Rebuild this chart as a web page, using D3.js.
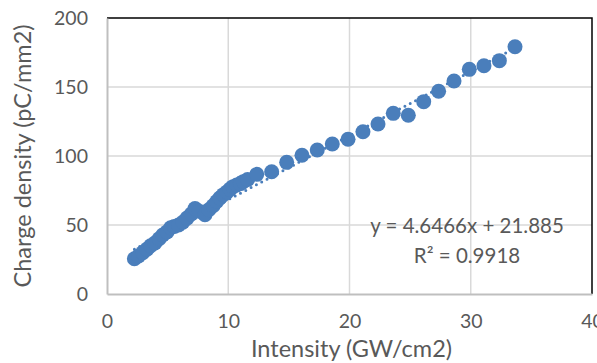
<!DOCTYPE html>
<html>
<head>
<meta charset="utf-8">
<script src="https://cdn.jsdelivr.net/npm/d3@7"></script>
<style>
  body { margin: 0; background: #fff; }
  text { font-family: Lato, "Open Sans", sans-serif; fill: #595959; }
</style>
</head>
<body>
<svg id="chart" width="597" height="363"></svg>
<script>
// values
const intensity = [2.26, 2.6, 2.95, 3.3, 3.6, 3.95, 4.3, 4.6, 4.95, 5.25, 5.55, 5.9, 6.25, 6.6, 6.95,
  7.26, 7.6, 8.08, 8.4, 8.75, 9.05, 9.3, 9.6, 9.9, 10.15, 10.4, 10.7, 11.0, 11.24, 11.6, 12.35,
  13.58, 14.82, 16.08, 17.34, 18.58, 19.88, 21.11, 22.35, 23.61, 24.85, 26.12, 27.35, 28.62,
  29.88, 31.09, 32.36, 33.65];
const charge = [25.5, 27.5, 30, 32.5, 35, 37, 40, 42.8, 45, 48, 49, 50, 52, 55, 58,
  62, 60, 57.5, 61, 64, 67, 69.6, 72, 74, 76, 77.8, 79, 80, 81.4, 83, 86.7,
  88.6, 95.4, 100.5, 104.3, 108.7, 112.1, 117.6, 123.2, 130.9, 129.5, 139.4, 146.9, 154.3,
  162.8, 165.4, 169.1, 179.2];
const xTicks = [0, 10, 20, 30, 40];
const yTicks = [0, 50, 100, 150, 200];
const slope = 4.6466, intercept = 21.885;
const equationLines = ["y = 4.6466x + 21.885", "R² = 0.9918"];

const svg = d3.select("#chart");
const margin = { left: 107, top: 18, right: 5, bottom: 69 };
const W = 597, H = 363;

const x = d3.scaleLinear().domain([0, 40]).range([margin.left, W - margin.right]);
const y = d3.scaleLinear().domain([0, 200]).range([H - margin.bottom, margin.top]);

// gridlines
svg.append("g")
  .selectAll("line.vg")
  .data(xTicks.slice(1, -1))
  .join("line")
  .attr("x1", (d) => x(d)).attr("x2", (d) => x(d))
  .attr("y1", y(0)).attr("y2", y(200))
  .attr("stroke", "#d9d9d9").attr("stroke-width", 1.5);
svg.append("g")
  .selectAll("line.hg")
  .data(yTicks.slice(1, -1))
  .join("line")
  .attr("y1", (d) => y(d)).attr("y2", (d) => y(d))
  .attr("x1", x(0)).attr("x2", x(40))
  .attr("stroke", "#d9d9d9").attr("stroke-width", 1.5);

// plot border: top and right dark
svg.append("path")
  .attr("d", `M${x(0)},${y(200)}H${x(40)}V${y(0)}`)
  .attr("fill", "none").attr("stroke", "#000").attr("stroke-width", 1.5);

// axes
const xAxis = svg.append("g")
  .attr("transform", `translate(0,${y(0)})`)
  .call(d3.axisBottom(x).tickValues(xTicks).tickSize(0).tickPadding(20));
const yAxis = svg.append("g")
  .attr("transform", `translate(${x(0)},0)`)
  .call(d3.axisLeft(y).tickValues(yTicks).tickSize(0).tickPadding(19));
[xAxis, yAxis].forEach((a) => {
  a.select(".domain").attr("stroke", "#bfbfbf").attr("stroke-width", 2);
  a.selectAll("text").style("font-size", "19.5px").style("font-family", "Lato").attr("fill", "#595959");
});

// trendline
const x0 = d3.min(intensity), x1 = d3.max(intensity);
svg.append("line")
  .attr("x1", x(x0)).attr("y1", y(slope * x0 + intercept))
  .attr("x2", x(x1)).attr("y2", y(slope * x1 + intercept))
  .attr("stroke", "#4a7ebb").attr("stroke-width", 3)
  .attr("stroke-linecap", "round").attr("stroke-dasharray", "0 6");

// points
svg.append("g")
  .selectAll("circle")
  .data(intensity.map((d, i) => [d, charge[i]]))
  .join("circle")
  .attr("cx", (d) => x(d[0]))
  .attr("cy", (d) => y(d[1]))
  .attr("r", 7.5)
  .attr("fill", "#4a7ebb");

// equation label
svg.append("g")
  .selectAll("text")
  .data(equationLines)
  .join("text")
  .attr("x", 467)
  .attr("y", (d, i) => 233 + i * 30)
  .attr("text-anchor", "middle")
  .style("font-size", "20.5px")
  .text((d) => d);

// axis titles
svg.append("text")
  .attr("x", (x(0) + x(40)) / 2 + 2)
  .attr("y", 357)
  .attr("text-anchor", "middle")
  .style("font-size", "23.5px")
  .text("Intensity (GW/cm2)");
svg.append("text")
  .attr("transform", `translate(31,${(y(0) + y(200)) / 2}) rotate(-90)`)
  .attr("text-anchor", "middle")
  .style("font-size", "23.5px")
  .text("Charge density (pC/mm2)");
</script>
</body>
</html>
